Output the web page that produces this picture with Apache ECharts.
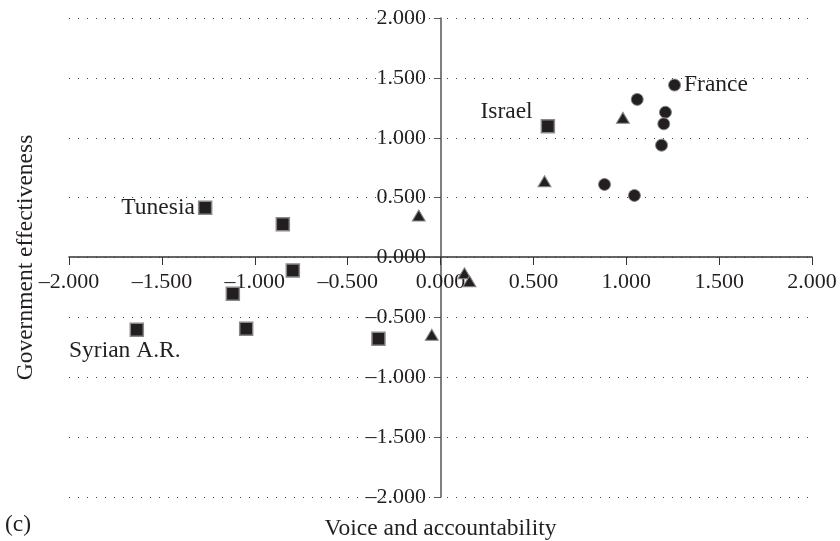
<!DOCTYPE html>
<html>
<head>
<meta charset="utf-8">
<script src="https://cdn.jsdelivr.net/npm/echarts@6/dist/echarts.min.js"></script>
<style>
  html, body { margin: 0; padding: 0; background: #fff; }
  #chart { width: 840px; height: 541px; }
</style>
</head>
<body>
<div id="chart"></div>
<script>
// tick labels of both axes
var tickValues = [-2, -1.5, -1, -0.5, 0, 0.5, 1, 1.5, 2];

// group 1: squares (x = voice, y = effectiveness)
var squareX = [0.578, -1.267, -0.849, -0.795, -1.118, -1.046, -1.635, -0.334];
var squareY = [1.096, 0.415, 0.278, -0.109, -0.303, -0.595, -0.604, -0.679];
var squareNames = ['Israel', 'Tunesia', '', '', '', '', 'Syrian A.R.', ''];

// group 2: triangles
var triX = [0.982, 0.560, -0.117, 0.129, 0.156, -0.047];
var triY = [1.167, 0.637, 0.351, -0.131, -0.198, -0.645];

// group 3: circles
var circX = [1.260, 1.059, 1.211, 1.202, 1.190, 0.883, 1.044];
var circY = [1.440, 1.320, 1.213, 1.116, 0.938, 0.610, 0.518];
var circNames = ['France', '', '', '', '', '', ''];

var FONT = '"Liberation Serif", "DejaVu Serif", serif';
var INK = '#231f20';
var TICK_FS = 22;
var TEXT_FS = 23.5;

function toPoints(xs, ys, names) {
    var out = [];
    for (var i = 0; i < xs.length; i++) {
        out.push({ value: [xs[i], ys[i]], name: names ? names[i] : '' });
    }
    return out;
}

function fmt(v) {
    return v.toFixed(3).replace('-', '\u2013');
}

var labelBase = {
    show: true,
    formatter: '{b}',
    color: INK,
    fontFamily: FONT,
    fontSize: TEXT_FS
};

// per-point label placement for the named countries
var squareData = toPoints(squareX, squareY, squareNames);
squareData[0].label = { position: 'left', distance: 4, offset: [-4, -14] };
squareData[1].label = { position: 'left', distance: 3 };
squareData[6].label = { position: 'bottom', distance: 2, offset: [-12, 0] };

var circData = toPoints(circX, circY, circNames);
circData[0].label = { position: 'right', distance: 3 };

var chart = echarts.init(document.getElementById('chart'));

// the axes cross in the middle of the plot: grid 743 x 479, so half of each
var option = {
    backgroundColor: '#fff',
    animation: false,
    textStyle: { fontFamily: FONT },
    grid: { left: 69, right: 28, top: 18, bottom: 44, containLabel: false, outerBoundsMode: 'none' },
    xAxis: {
        type: 'value',
        position: 'bottom',
        offset: -240,
        min: -2,
        max: 2,
        interval: 0.5,
        name: 'Voice and accountability',
        nameLocation: 'middle',
        nameGap: 260,
        nameTextStyle: { color: INK, fontFamily: FONT, fontSize: TEXT_FS },
        axisLine: { onZero: false, lineStyle: { color: '#333', width: 1.5 } },
        axisTick: { show: true, inside: false, length: 8, lineStyle: { color: '#333' } },
        axisLabel: { formatter: fmt, color: INK, fontFamily: FONT, fontSize: TICK_FS, margin: 14, hideOverlap: false },
        splitLine: { show: false }
    },
    yAxis: {
        type: 'value',
        position: 'left',
        offset: -372,
        min: -2,
        max: 2,
        interval: 0.5,
        name: 'Government effectiveness',
        nameLocation: 'middle',
        nameGap: 403,
        nameTextStyle: { color: INK, fontFamily: FONT, fontSize: TEXT_FS },
        axisLine: { onZero: false, lineStyle: { color: '#555', width: 1.5 } },
        axisTick: { show: true, length: 7, lineStyle: { color: '#555' } },
        axisLabel: { formatter: fmt, color: INK, fontFamily: FONT, fontSize: TICK_FS, margin: 15, hideOverlap: false },
        splitLine: {
            show: true,
            lineStyle: { color: '#444', width: 1, type: [1, 8] }
        }
    },
    graphic: [{
        type: 'text',
        left: 5,
        top: 513,
        style: { text: '(c)', fill: INK, font: TEXT_FS + 'px ' + FONT }
    }],
    series: [{
        type: 'scatter',
        symbol: 'rect',
        symbolSize: 13,
        itemStyle: { color: INK, borderColor: '#888', borderWidth: 1.5, opacity: 1 },
        label: labelBase,
        data: squareData
    }, {
        type: 'scatter',
        symbol: 'triangle',
        symbolSize: [13, 11],
        itemStyle: { color: INK, borderColor: '#888', borderWidth: 1, opacity: 1 },
        data: toPoints(triX, triY)
    }, {
        type: 'scatter',
        symbol: 'circle',
        symbolSize: 12,
        itemStyle: { color: INK, borderColor: '#888', borderWidth: 1, opacity: 1 },
        label: labelBase,
        data: circData
    }]
};

chart.setOption(option);
</script>
</body>
</html>
